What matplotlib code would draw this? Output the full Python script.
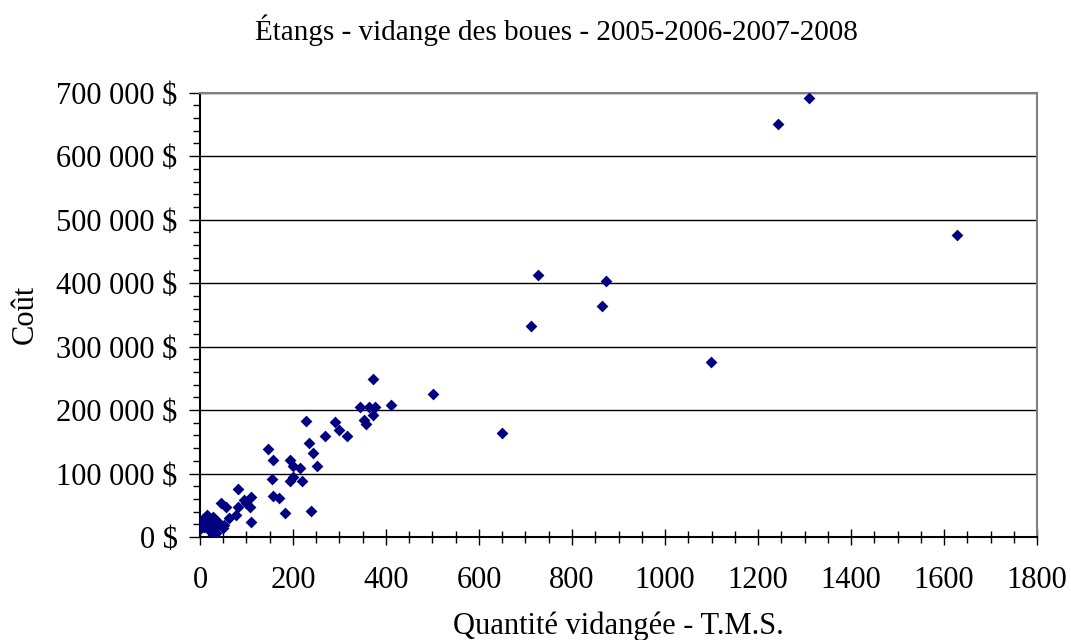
import matplotlib
matplotlib.use("Agg")
import matplotlib.pyplot as plt
from matplotlib.ticker import MultipleLocator, FuncFormatter

plt.rcParams['font.family'] = ['Liberation Serif', 'DejaVu Serif']

# Quantité vidangée (T.M.S.) et coût ($)
quantite = [1309, 1243, 1628, 727, 873, 711, 864, 1099, 649, 502, 410, 373,
            345, 364, 377, 373, 352, 357, 227, 291, 300, 316, 268, 235,
            244, 252, 146, 158, 194, 199, 215, 199, 194, 219, 154, 158,
            171, 110, 108, 182, 239, 81, 45, 56, 81, 95, 99, 77,
            63, 110, 52, 49, 16, 27, 9, 20, 6, 13, 27, 34,
            27, 34, 2, 20, 38, 31, 2, 14, 9, 28]
cout = [692000, 651000, 476000, 413000, 404000, 333000, 364000, 276000, 164000, 225000, 208000, 249000,
        204500, 204500, 204500, 192400, 184500, 177700, 183400, 180900, 168700, 159300, 159300, 147800,
        132900, 112000, 139300, 121400, 121400, 112000, 109300, 95100, 88300, 88300, 92000, 64700,
        62000, 62600, 47800, 37400, 41000, 76200, 54000, 47800, 47800, 58300, 53000, 34700,
        29500, 23200, 18900, 13700, 34700, 32000, 29500, 26800, 18900, 16200, 21600, 16200,
        8400, 6800, 21600, 11000, 24100, 15300, 13700, 22500, 15300, 3500]

fig = plt.figure(figsize=(10.71, 6.4), dpi=100)
ax = fig.add_axes([0.1867, 0.1609, 0.7816, 0.6943])

ax.scatter(quantite, cout, marker='D', s=36, color='#000080', linewidths=0, zorder=3)

ax.set_xlim(0, 1800)
ax.set_ylim(0, 700000)
ax.xaxis.set_major_locator(MultipleLocator(200))
ax.xaxis.set_minor_locator(MultipleLocator(50))
ax.yaxis.set_major_locator(MultipleLocator(100000))
ax.yaxis.set_minor_locator(MultipleLocator(20000))

def fmt_dollars(v, pos):
    return '{:,.0f} $'.format(v).replace(',', ' ')

ax.yaxis.set_major_formatter(FuncFormatter(fmt_dollars))

ax.grid(axis='y', which='major', color='black', linewidth=1)
ax.set_axisbelow(True)

ax.tick_params(axis='y', which='major', direction='out', length=8, width=1, labelsize=22, pad=8)
ax.tick_params(axis='y', which='minor', direction='out', length=5, width=1)
ax.tick_params(axis='x', which='major', direction='inout', length=12, width=1, labelsize=22, pad=15)
ax.tick_params(axis='x', which='minor', direction='inout', length=8, width=1)

for side in ['top', 'right']:
    ax.spines[side].set_color('#808080')
    ax.spines[side].set_linewidth(1.5)
for side in ['left', 'bottom']:
    ax.spines[side].set_color('black')
    ax.spines[side].set_linewidth(1.5)

ax.set_xlabel('Quantité vidangée - T.M.S.', fontsize=22, labelpad=12)
ax.set_ylabel('Coût', fontsize=22, labelpad=12)
fig.text(0.52, 0.953, 'Étangs - vidange des boues - 2005-2006-2007-2008',
         ha='center', va='center', fontsize=21)

fig.savefig('out.png', dpi=100)
